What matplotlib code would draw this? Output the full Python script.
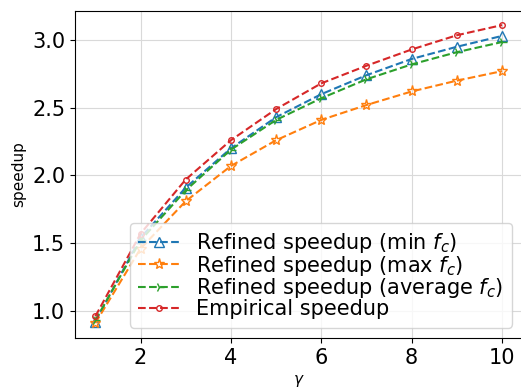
import matplotlib
matplotlib.use("Agg")
import matplotlib.pyplot as plt

gamma = [1, 2, 3, 4, 5, 6, 7, 8, 9, 10]
min_fc = [0.92, 1.54, 1.91, 2.20, 2.43, 2.60, 2.74, 2.86, 2.95, 3.03]
max_fc = [0.91, 1.46, 1.81, 2.07, 2.26, 2.41, 2.52, 2.62, 2.70, 2.77]
avg_fc = [0.93, 1.52, 1.89, 2.19, 2.41, 2.57, 2.71, 2.82, 2.91, 2.985]
empirical = [0.96, 1.57, 1.97, 2.26, 2.49, 2.68, 2.81, 2.93, 3.035, 3.11]

fig = plt.figure(figsize=(5.21, 3.89), dpi=100)
ax = fig.add_axes([75 / 521, 51 / 389, 447.4 / 521, 327 / 389])

ax.plot(gamma, min_fc, '--', marker='^', color='tab:blue', mfc='none', ms=7,
        label='Refined speedup (min $f_c$)')
ax.plot(gamma, max_fc, '--', marker='*', color='tab:orange', mfc='none', ms=8,
        label='Refined speedup (max $f_c$)')
ax.plot(gamma, avg_fc, '--', marker='4', color='tab:green', ms=7,
        label='Refined speedup (average $f_c$)')
ax.plot(gamma, empirical, '--', marker='o', color='tab:red', mfc='none', ms=4,
        label='Empirical speedup')

ax.set_xlim(0.55, 10.45)
ax.set_ylim(0.80, 3.214)
ax.set_xticks([2, 4, 6, 8, 10])
ax.set_yticks([1.0, 1.5, 2.0, 2.5, 3.0])
ax.tick_params(labelsize=15)
ax.grid(True, color='#d9d9d9')
ax.set_xlabel(r'$\gamma$', fontsize=11)
ax.set_ylabel('speedup', fontsize=11)
ax.legend(loc='lower right', fontsize=15, labelspacing=-0.06)

fig.savefig('out.png', dpi=100)
